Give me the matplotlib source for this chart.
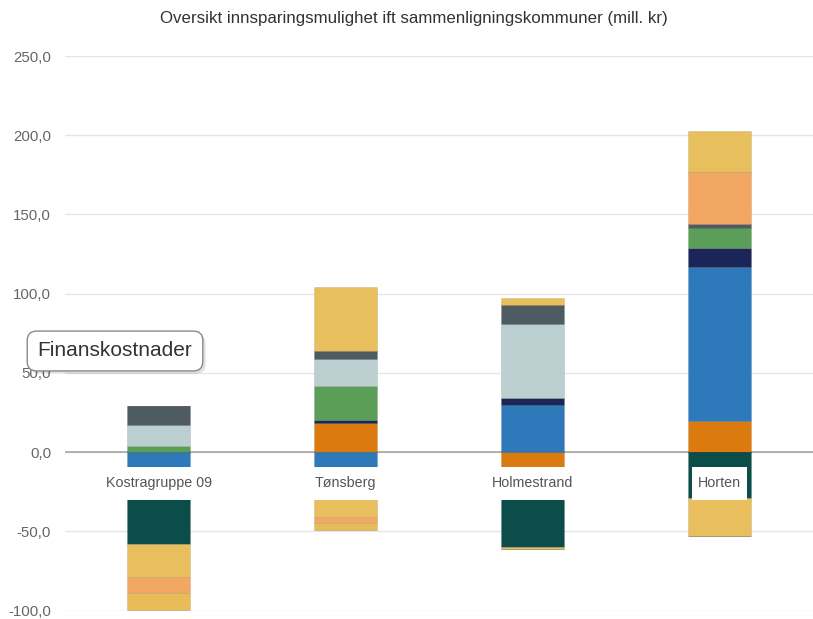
import matplotlib
matplotlib.use("Agg")
import matplotlib.pyplot as plt
from matplotlib.path import Path
import matplotlib.patheffects as pe
import numpy as np

# ---------------- data ----------------
title = "Oversikt innsparingsmulighet ift sammenligningskommuner (mill. kr)"
categories = ["Kostragruppe 09", "Tønsberg", "Holmestrand", "Horten"]
y_ticks = [-100, -50, 0, 50, 100, 150, 200, 250]
tooltip_text = "Finanskostnader"

# series listed from the zero line outward (stack order)
series_names = ["Serie 1", "Serie 2", "Serie 3", "Serie 4", "Serie 5", "Serie 6",
                "Serie 7", "Serie 8", "Serie 9", "Serie 10", "Finanskostnader"]
orange     = [0.0, 18.3, -12.0, 19.4]
blue       = [-12.0, -12.0, 29.4, 97.7]
navy       = [0.0, 2.1, 4.6, 11.7]
green      = [3.8, 21.6, 0.0, 12.6]
light      = [13.4, 16.8, 46.9, 0.0]
darkgray   = [11.8, 5.2, 12.1, 2.5]
teal       = [-45.8, 0.0, -48.0, -29.0]
yellow_a   = [-21.0, -29.0, -1.0, -24.0]
lightorng  = [-9.9, -4.0, 0.0, 32.7]
yellow_b   = [-11.1, -4.0, 0.0, 0.0]
yellow_c   = [0.0, 40.0, 4.1, 26.2]

series_values = [orange, blue, navy, green, light, darkgray, teal,
                 yellow_a, lightorng, yellow_b, yellow_c]
series_colors = ["#DB7A0E", "#2D79BA", "#1B2558", "#5B9E58", "#BBCED0", "#4E5C62",
                 "#0B4D48", "#E9BE5C", "#F2A862", "#E7BC59", "#E8BF5D"]

# ---------------- figure ----------------
W, H = 813, 619
fig = plt.figure(figsize=(W / 100, H / 100), dpi=100)
ax = fig.add_axes([65 / W, 8.5 / H, 748 / W, 554.5 / H])
ax.set_xlim(-0.5, 3.5)
ax.set_ylim(-100, 250)

x = np.arange(len(categories))
pos_base = np.zeros(len(categories))
neg_base = np.zeros(len(categories))
for name, vals, col in zip(series_names, series_values, series_colors):
    v = np.array(vals, dtype=float)
    pos = np.where(v > 0, v, 0)
    neg = np.where(v < 0, v, 0)
    ax.bar(x, pos, 0.34, bottom=pos_base, color=col, edgecolor=(0, 0, 0, 0.10),
           linewidth=0.6, zorder=3, label=name)
    ax.bar(x, neg, 0.34, bottom=neg_base, color=col, edgecolor=(0, 0, 0, 0.10),
           linewidth=0.6, zorder=3)
    pos_base += pos
    neg_base += neg

# axes styling
for s in ax.spines.values():
    s.set_visible(False)
ax.set_yticks(y_ticks)
ax.set_yticklabels([f"{t:.1f}".replace(".", ",") for t in y_ticks],
                   fontsize=10.8, color="#666666", family="Liberation Sans")
ax.tick_params(axis="y", length=0, pad=10)
ax.set_xticks([])
ax.grid(axis="y", color="#e6e6e6", linewidth=1, zorder=0)
ax.set_axisbelow(True)
ax.axhline(0, color="#a6a6a6", linewidth=1.2, zorder=2)


# category labels with white background box
def label_box(x0, y0, width, height, mutation_size):
    padx, pady = 6.0, 9.5
    xa, xb = x0 - padx, x0 + width + padx
    ya, yb = y0 - pady, y0 + height + pady
    return Path([(xa, ya), (xb, ya), (xb, yb), (xa, yb), (xa, ya)],
                [Path.MOVETO, Path.LINETO, Path.LINETO, Path.LINETO, Path.CLOSEPOLY])


for xi, cat in zip(x, categories):
    ax.text(xi, -19.6, cat, ha="center", va="center", fontsize=10.3,
            color="#555555", family="Liberation Sans", zorder=5,
            bbox=dict(boxstyle=label_box, fc="white", ec="none"))

# title
fig.text(414 / W, 1 - 19 / H, title, ha="center", va="center", fontsize=12.2,
         color="#333333", family="Liberation Sans")

# tooltip
tt = fig.text(115 / W, 1 - 351 / H, tooltip_text, ha="center", va="center",
              fontsize=15, color="#333333", family="Liberation Sans", zorder=10,
              bbox=dict(boxstyle="round,pad=0.5,rounding_size=0.45", fc="white",
                        ec="#8a8a8a", lw=1.0))
tt.get_bbox_patch().set_path_effects([
    pe.withSimplePatchShadow(offset=(2, -2), shadow_rgbFace="#000000", alpha=0.12)])

fig.savefig("out.png", dpi=100)
